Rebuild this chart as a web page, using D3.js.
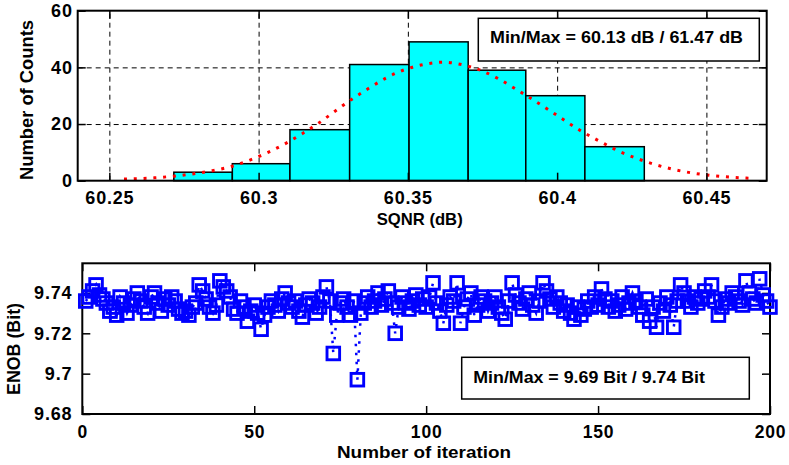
<!DOCTYPE html>
<html><head><meta charset="utf-8">
<script src="https://cdn.jsdelivr.net/npm/d3@7"></script>
<style>
body{margin:0;background:#fff;}
svg{display:block;font-family:"Liberation Sans",Arial,Helvetica,sans-serif;font-weight:bold;}
</style></head><body>
<svg id="chart" width="789" height="465"></svg>
<script>
// ---------- data ----------
const binEdges = [60.2716, 60.2912, 60.3105, 60.3305, 60.3504, 60.3702, 60.3895, 60.4093, 60.4292];
const binCounts = [3, 6, 18, 41, 49, 39, 30, 12];
const fitX = [60.2549, 60.2650, 60.2714, 60.2779, 60.2844, 60.2908, 60.2969, 60.3030, 60.3088, 60.3146,
  60.3202, 60.3257, 60.3310, 60.3369, 60.3426, 60.3487, 60.3552, 60.3617, 60.3680, 60.3745,
  60.3805, 60.3862, 60.3920, 60.3976, 60.4029, 60.4084, 60.4143, 60.4203, 60.4263, 60.4325,
  60.4389, 60.4454, 60.4519, 60.4588, 60.4655];
const fitY = [0.6, 1.0, 1.6, 2.4, 3.5, 5.0, 7.2, 9.9, 13.0, 16.6,
  20.4, 24.6, 28.6, 32.6, 36.2, 39.1, 41.0, 41.8, 41.0, 38.9,
  35.9, 32.3, 28.5, 24.7, 21.0, 17.3, 13.9, 10.6, 8.0, 5.8,
  4.0, 2.7, 1.8, 1.2, 0.8];
const sqnrTicks = [60.25, 60.3, 60.35, 60.4, 60.45];
const sqnrTickLabels = ["60.25", "60.3", "60.35", "60.4", "60.45"];
const countTicks = [0, 20, 40, 60];
const countGrid = [20, 40];

const enobValues = [
  9.736, 9.738, 9.741, 9.744, 9.739, 9.737, 9.735, 9.731, 9.733, 9.729,
  9.738, 9.735, 9.730, 9.734, 9.737, 9.740, 9.736, 9.733, 9.730, 9.738,
  9.740, 9.735, 9.731, 9.737, 9.734, 9.738, 9.736, 9.732, 9.730, 9.731,
  9.729, 9.733, 9.735, 9.744, 9.741, 9.737, 9.733, 9.730, 9.734, 9.746,
  9.743, 9.741, 9.738, 9.732, 9.730, 9.736, 9.733, 9.726, 9.731, 9.734,
  9.730, 9.722, 9.729, 9.733, 9.736, 9.734, 9.731, 9.737, 9.740, 9.735,
  9.733, 9.736, 9.731, 9.728, 9.734, 9.737, 9.735, 9.730, 9.733, 9.738,
  9.743, 9.736, 9.710, 9.729, 9.735, 9.737, 9.733, 9.729, 9.736, 9.697,
  9.730, 9.735, 9.738, 9.733, 9.736, 9.740, 9.734, 9.737, 9.741, 9.735,
  9.720, 9.733, 9.738, 9.735, 9.732, 9.736, 9.739, 9.734, 9.737, 9.733,
  9.738, 9.745, 9.735, 9.731, 9.725, 9.734, 9.738, 9.736, 9.745, 9.725,
  9.733, 9.737, 9.740, 9.729, 9.734, 9.738, 9.736, 9.731, 9.735, 9.738,
  9.733, 9.730, 9.727, 9.736, 9.745, 9.739, 9.735, 9.732, 9.737, 9.740,
  9.734, 9.730, 9.736, 9.745, 9.741, 9.737, 9.733, 9.738, 9.735, 9.731,
  9.734, 9.730, 9.727, 9.733, 9.729, 9.732, 9.736, 9.733, 9.738, 9.734,
  9.742, 9.737, 9.733, 9.736, 9.731, 9.734, 9.738, 9.732, 9.735, 9.740,
  9.736, 9.733, 9.729, 9.737, 9.726, 9.733, 9.723, 9.735, 9.731, 9.738,
  9.734, 9.723, 9.736, 9.744, 9.740, 9.736, 9.733, 9.738, 9.735, 9.737,
  9.741, 9.738, 9.744, 9.736, 9.729, 9.733, 9.737, 9.735, 9.740, 9.738,
  9.736, 9.734, 9.746, 9.740, 9.737, 9.735, 9.747, 9.739, 9.736, 9.733
];
const iterTicks = [0, 50, 100, 150, 200];
const enobTicks = [9.68, 9.7, 9.72, 9.74];
const enobTickLabels = ["9.68", "9.7", "9.72", "9.74"];
const topNote = "Min/Max = 60.13 dB / 61.47 dB";
const bottomNote = "Min/Max = 9.69 Bit / 9.74 Bit";
const topXLabel = "SQNR (dB)", topYLabel = "Number of Counts";
const botXLabel = "Number of iteration", botYLabel = "ENOB (Bit)";

// ---------- drawing ----------
const svg = d3.select("#chart");

function styleAxis(g, showText, size) {
  g.select(".domain").remove();
  g.selectAll(".tick line").attr("stroke", "#000").attr("stroke-width", 1.5);
  g.selectAll(".tick text").attr("fill", "#000").style("font-size", size || "18px")
    .style("font-weight", "bold").style("letter-spacing", "0.8px");
  if (!showText) g.selectAll(".tick text").remove();
}

// ===== Top: histogram =====
const T = {l: 77.7, r: 766.7, t: 10.7, b: 180.7};
const xT = d3.scaleLinear().domain([60.2394, 60.4702]).range([T.l, T.r]);
const yT = d3.scaleLinear().domain([0, 60]).range([T.b, T.t]);
const gTop = svg.append("g");

// grid
gTop.append("g").attr("transform", `translate(0,${T.b})`)
  .call(d3.axisBottom(xT).tickValues(sqnrTicks).tickSize(-(T.b - T.t)).tickFormat(""))
  .call(g => { g.select(".domain").remove(); g.selectAll("line").attr("stroke", "#000").attr("stroke-width", 1).attr("stroke-dasharray", "5,4"); });
gTop.append("g").attr("transform", `translate(${T.l},0)`)
  .call(d3.axisLeft(yT).tickValues(countGrid).tickSize(-(T.r - T.l)).tickFormat(""))
  .call(g => { g.select(".domain").remove(); g.selectAll("line").attr("stroke", "#000").attr("stroke-width", 1).attr("stroke-dasharray", "5,4"); });

// bars
gTop.selectAll("rect.bar").data(binCounts).enter().append("rect")
  .attr("class", "bar")
  .attr("x", (d, i) => xT(binEdges[i]))
  .attr("width", (d, i) => xT(binEdges[i + 1]) - xT(binEdges[i]))
  .attr("y", d => yT(d))
  .attr("height", d => yT(0) - yT(d))
  .attr("fill", "#00ffff").attr("stroke", "#000").attr("stroke-width", 1.5);

// fit curve
const fitPts = fitX.map((x, i) => [x, fitY[i]]);
gTop.append("path").datum(fitPts)
  .attr("d", d3.line().x(d => xT(d[0])).y(d => yT(d[1])).curve(d3.curveMonotoneX))
  .attr("fill", "none").attr("stroke", "#ff0000").attr("stroke-width", 3)
  .attr("stroke-dasharray", "3,6.8");

// axes
gTop.append("g").attr("transform", `translate(0,${T.b})`)
  .call(d3.axisBottom(xT).tickValues(sqnrTicks).tickFormat((d, i) => sqnrTickLabels[i]).tickSize(-8).tickPadding(11))
  .call(g => styleAxis(g, true));
gTop.append("g").attr("transform", `translate(0,${T.t})`)
  .call(d3.axisTop(xT).tickValues(sqnrTicks).tickSize(-8))
  .call(g => styleAxis(g, false));
gTop.append("g").attr("transform", `translate(${T.l},0)`)
  .call(d3.axisLeft(yT).tickValues(countTicks).tickSize(-8).tickPadding(5))
  .call(g => styleAxis(g, true));
gTop.append("g").attr("transform", `translate(${T.r},0)`)
  .call(d3.axisRight(yT).tickValues(countTicks).tickSize(-8))
  .call(g => styleAxis(g, false));
gTop.append("rect").attr("x", T.l).attr("y", T.t).attr("width", T.r - T.l).attr("height", T.b - T.t)
  .attr("fill", "none").attr("stroke", "#000").attr("stroke-width", 2);

// note box
gTop.append("rect").attr("x", 478.3).attr("y", 18.3).attr("width", 281).attr("height", 42.7)
  .attr("fill", "#fff").attr("stroke", "#000").attr("stroke-width", 1.5);
gTop.append("text").attr("x", 490).attr("y", 43.3).text(topNote)
  .style("font-size", "17px").attr("textLength", 253).attr("lengthAdjust", "spacingAndGlyphs");

// labels
gTop.append("text").attr("x", 419.7).attr("y", 225).attr("text-anchor", "middle")
  .style("font-size", "17px").attr("textLength", 86).attr("lengthAdjust", "spacingAndGlyphs").text(topXLabel);
gTop.append("text").attr("transform", "translate(33,100) rotate(-90)").attr("text-anchor", "middle")
  .style("font-size", "18px").attr("textLength", 160).attr("lengthAdjust", "spacingAndGlyphs").text(topYLabel);

// ===== Bottom: ENOB vs iteration =====
const B = {l: 82.3, r: 770, t: 263.3, b: 414};
const xB = d3.scaleLinear().domain([0, 200]).range([B.l, B.r]);
const yB = d3.scaleLinear().domain([9.68, 9.7547]).range([B.b, B.t]);
const gBot = svg.append("g");

gBot.append("g").attr("transform", `translate(0,${B.b})`)
  .call(d3.axisBottom(xB).tickValues(iterTicks).tickSize(-8).tickPadding(12))
  .call(g => styleAxis(g, true, "17.5px"));
gBot.append("g").attr("transform", `translate(0,${B.t})`)
  .call(d3.axisTop(xB).tickValues(iterTicks).tickSize(-8))
  .call(g => styleAxis(g, false));
gBot.append("g").attr("transform", `translate(${B.l},0)`)
  .call(d3.axisLeft(yB).tickValues(enobTicks).tickFormat((d, i) => enobTickLabels[i]).tickSize(-8).tickPadding(10))
  .call(g => styleAxis(g, true));
gBot.append("g").attr("transform", `translate(${B.r},0)`)
  .call(d3.axisRight(yB).tickValues(enobTicks).tickSize(-8))
  .call(g => styleAxis(g, false));
gBot.append("rect").attr("x", B.l).attr("y", B.t).attr("width", B.r - B.l).attr("height", B.b - B.t)
  .attr("fill", "none").attr("stroke", "#000").attr("stroke-width", 2);

const enobPts = enobValues.map((v, i) => [i + 1, v]);
gBot.selectAll("rect.mk").data(enobPts).enter().append("rect")
  .attr("class", "mk")
  .attr("x", d => xB(d[0]) - 6.3).attr("y", d => yB(d[1]) - 6.3)
  .attr("width", 12.6).attr("height", 12.6)
  .attr("fill", "none").attr("stroke", "#0000ff").attr("stroke-width", 2.9);
gBot.append("path").datum(enobPts)
  .attr("d", d3.line().x(d => xB(d[0])).y(d => yB(d[1])))
  .attr("fill", "none").attr("stroke", "#0000ff").attr("stroke-width", 2.5)
  .attr("stroke-dasharray", "2.5,6.5");

gBot.append("rect").attr("x", 461.7).attr("y", 357.3).attr("width", 287.6).attr("height", 41.7)
  .attr("fill", "#fff").attr("stroke", "#000").attr("stroke-width", 1.5);
gBot.append("text").attr("x", 473.3).attr("y", 382.7).text(bottomNote)
  .style("font-size", "17px").attr("textLength", 231.7).attr("lengthAdjust", "spacingAndGlyphs");

gBot.append("text").attr("x", 424).attr("y", 457.5).attr("text-anchor", "middle")
  .style("font-size", "17px").attr("textLength", 174).attr("lengthAdjust", "spacingAndGlyphs").text(botXLabel);
gBot.append("text").attr("transform", "translate(20,349) rotate(-90)").attr("text-anchor", "middle")
  .style("font-size", "18px").attr("textLength", 92).attr("lengthAdjust", "spacingAndGlyphs").text(botYLabel);
</script>
</body></html>
